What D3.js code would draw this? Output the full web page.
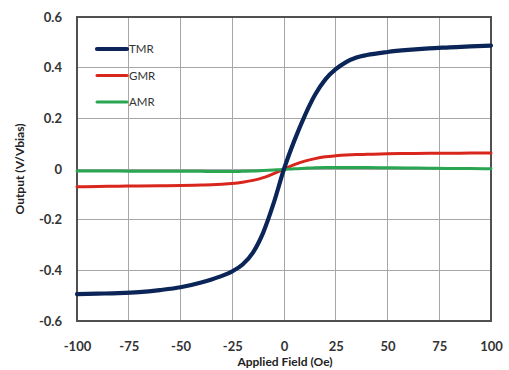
<!DOCTYPE html>
<html><head><meta charset="utf-8">
<script src="https://cdn.jsdelivr.net/npm/d3@7/dist/d3.min.js"></script>
<style>body{margin:0;background:#fff}svg{display:block}</style>
</head><body>
<svg id="c" width="509" height="370"></svg>
<script>
const fields = [-100,-90,-80,-70,-60,-50,-40,-35,-30,-25,-20,-15,-10,-5,0,5,10,15,20,25,30,35,40,50,60,70,80,90,100];
const tmr = [-0.494,-0.492,-0.490,-0.486,-0.478,-0.467,-0.448,-0.436,-0.422,-0.404,-0.377,-0.330,-0.250,-0.135,0,0.112,0.210,0.293,0.354,0.394,0.422,0.440,0.450,0.462,0.470,0.476,0.480,0.484,0.487];
const gmr = [-0.070,-0.069,-0.068,-0.067,-0.066,-0.065,-0.063,-0.062,-0.060,-0.057,-0.052,-0.045,-0.034,-0.018,0,0.017,0.031,0.041,0.048,0.052,0.055,0.057,0.058,0.060,0.061,0.062,0.062,0.063,0.063];
const amr = [-0.008,-0.008,-0.008,-0.009,-0.009,-0.009,-0.009,-0.010,-0.010,-0.010,-0.009,-0.008,-0.006,-0.004,-0.002,0.001,0.003,0.005,0.006,0.006,0.006,0.006,0.006,0.005,0.004,0.003,0.002,0.002,0.001];
const seriesNames = ["TMR","GMR","AMR"];
const xTicks = [-100,-75,-50,-25,0,25,50,75,100];
const yTicks = [-0.6,-0.4,-0.2,0,0.2,0.4,0.6];

const colors = {TMR:"#0b2558", GMR:"#d8261d", AMR:"#2aa552"};
const widths = {TMR:4.2, GMR:3, AMR:3};
const values = {TMR:tmr, GMR:gmr, AMR:amr};
const hy = s => String(s).replace("\u2212","-");

const svg = d3.select("#c");
const L=77, R=491, T=17, B=321;
const x = d3.scaleLinear().domain([-100,100]).range([L,R]);
const y = d3.scaleLinear().domain([-0.6,0.6]).range([B,T]);

// grid
svg.append("g").selectAll("line").data(xTicks).join("line")
  .attr("x1",d=>x(d)).attr("x2",d=>x(d)).attr("y1",T).attr("y2",B)
  .attr("stroke","#a6a6a6").attr("stroke-width",1).attr("shape-rendering","crispEdges");
svg.append("g").selectAll("line").data(yTicks).join("line")
  .attr("y1",d=>y(d)).attr("y2",d=>y(d)).attr("x1",L).attr("x2",R)
  .attr("stroke","#a6a6a6").attr("stroke-width",1).attr("shape-rendering","crispEdges");
svg.append("rect").attr("x",L).attr("y",T).attr("width",R-L).attr("height",B-T)
  .attr("fill","none").attr("stroke","#505050").attr("stroke-width",1.2).attr("shape-rendering","crispEdges");

// axes labels
const font = "Lato, 'Open Sans', sans-serif";
const xAxis = d3.axisBottom(x).tickValues(xTicks).tickSize(0).tickPadding(0).tickFormat(d=>hy(d3.format("d")(d)));
const gx = svg.append("g").attr("transform",`translate(0,${B+25})`).call(xAxis);
gx.select(".domain").remove();
gx.selectAll("text").attr("font-family",font).attr("font-weight","bold")
  .attr("font-size","13px").attr("fill","#333").attr("dy","0.35em");

const yAxis = d3.axisLeft(y).tickValues(yTicks).tickSize(0).tickPadding(15).tickFormat(d=>d===0?"0":hy(d3.format(".1f")(d)));
const gy = svg.append("g").attr("transform",`translate(${L},0)`).call(yAxis);
gy.select(".domain").remove();
gy.selectAll("text").attr("font-family",font).attr("font-weight","bold")
  .attr("font-size","13px").attr("fill","#333");

svg.append("text").attr("x",(L+R)/2+1).attr("y",366).attr("text-anchor","middle")
  .attr("font-family",font).attr("font-weight","bold").attr("font-size","12px")
  .attr("fill","#222").text("Applied Field (Oe)");
svg.append("text").attr("transform",`translate(24,${(T+B)/2}) rotate(-90)`).attr("text-anchor","middle")
  .attr("font-family",font).attr("font-weight","bold").attr("font-size","12px")
  .attr("fill","#222").text("Output (V/Vbias)");

// lines
const line = d3.line().x((d,i)=>x(fields[i])).y(d=>y(d)).curve(d3.curveMonotoneX);
["GMR","AMR","TMR"].forEach(n=>{
  svg.append("path").attr("d",line(values[n])).attr("fill","none")
    .attr("stroke",colors[n]).attr("stroke-width",widths[n]).attr("stroke-linecap","round").attr("stroke-linejoin","round");
});

// legend
const legY = [49,75.5,102];
seriesNames.forEach((n,i)=>{
  svg.append("line").attr("x1",97).attr("x2",127).attr("y1",legY[i]).attr("y2",legY[i])
    .attr("stroke",colors[n]).attr("stroke-width",widths[n]).attr("stroke-linecap","round");
  svg.append("text").attr("x",129).attr("y",legY[i]).attr("dy","0.36em")
    .attr("font-family",font).attr("font-size","11.5px").attr("fill","#333").text(n);
});
</script>
</body></html>
